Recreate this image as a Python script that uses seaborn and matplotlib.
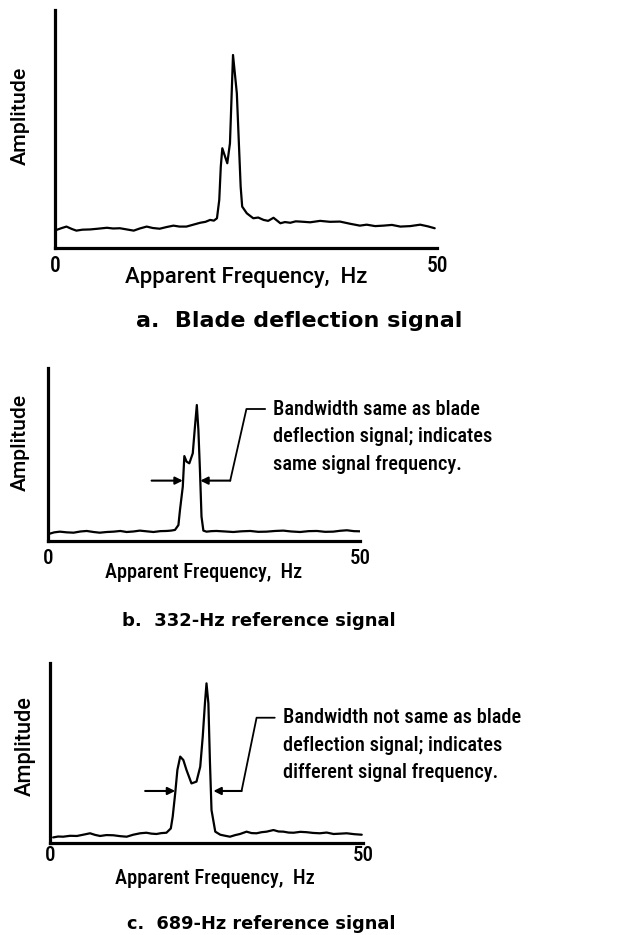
import matplotlib
matplotlib.use('Agg')
import matplotlib.pyplot as plt
import seaborn as sns
from matplotlib import font_manager
from matplotlib.font_manager import FontProperties

# Spectra: apparent frequency (Hz) and relative amplitude
blade_freq = [0.2, 0.9, 1.5, 2.2, 2.8, 3.6, 4.6, 5.6, 6.8, 7.6, 8.5, 9.4, 10.3, 11.1, 12.0,
              12.8, 13.7, 14.6, 15.5, 16.3, 17.2, 18.1, 19.0, 19.7, 20.3, 20.8, 21.2, 21.5,
              21.7, 21.9, 22.55, 22.9, 23.3, 23.8, 24.05, 24.3, 24.5, 25.1, 25.5, 25.95,
              26.6, 27.3, 27.9, 28.6, 29.5, 30.1, 30.8, 31.5, 32.1, 33.4, 34.7, 36.0, 37.3,
              38.6, 39.9, 40.8, 41.9, 43.0, 44.1, 45.2, 46.5, 47.8, 48.8, 49.7]
blade_amp = [0.076, 0.084, 0.090, 0.080, 0.073, 0.077, 0.078, 0.081, 0.085, 0.082, 0.083,
             0.078, 0.073, 0.082, 0.090, 0.084, 0.081, 0.088, 0.094, 0.090, 0.090, 0.098,
             0.106, 0.110, 0.118, 0.115, 0.125, 0.202, 0.342, 0.419, 0.356, 0.440, 0.811,
             0.650, 0.454, 0.258, 0.174, 0.146, 0.136, 0.125, 0.128, 0.118, 0.114, 0.127,
             0.104, 0.109, 0.106, 0.112, 0.111, 0.108, 0.114, 0.110, 0.111, 0.102, 0.094,
             0.098, 0.092, 0.094, 0.097, 0.090, 0.092, 0.098, 0.091, 0.083]

ref332_freq = [0.05, 1.0, 1.9, 3.0, 4.1, 5.2, 6.2, 7.3, 8.3, 9.4, 10.5, 11.6, 12.6, 13.7, 14.7,
               15.8, 16.9, 18.0, 19.0, 19.7, 20.35, 20.9, 21.15, 21.6, 21.85, 22.2, 22.65,
               23.2, 23.55, 23.85, 24.1, 24.35, 24.6, 24.9, 25.4, 26.2, 27.0, 28.4, 29.7,
               31.0, 32.4, 33.7, 35.0, 36.4, 37.7, 39.0, 40.4, 41.8, 43.1, 44.4, 45.7, 46.8,
               47.9, 49.0, 50.0]
ref332_amp = [0.040, 0.050, 0.054, 0.050, 0.048, 0.055, 0.058, 0.052, 0.048, 0.052, 0.054,
              0.058, 0.052, 0.055, 0.060, 0.056, 0.052, 0.057, 0.058, 0.060, 0.064, 0.092,
              0.179, 0.314, 0.491, 0.459, 0.449, 0.507, 0.661, 0.786, 0.642, 0.410, 0.141,
              0.060, 0.054, 0.057, 0.058, 0.055, 0.052, 0.056, 0.058, 0.053, 0.054, 0.058,
              0.060, 0.055, 0.052, 0.057, 0.058, 0.053, 0.054, 0.059, 0.062, 0.057, 0.056]

ref689_freq = [0.5, 1.3, 2.1, 3.2, 4.3, 5.3, 6.4, 7.2, 8.0, 9.0, 10.1, 11.2, 12.25, 13.3, 14.4,
               15.4, 16.2, 17.0, 17.8, 18.6, 19.3, 19.6, 20.0, 20.35, 20.8, 21.3, 21.8, 22.6,
               23.4, 24.0, 24.4, 24.75, 25.0, 25.3, 25.55, 25.8, 26.4, 27.2, 28.0, 28.75,
               29.6, 30.35, 31.4, 32.2, 33.0, 33.8, 34.6, 35.7, 36.5, 37.3, 38.1, 38.9, 40.0,
               41.0, 42.0, 43.1, 44.2, 45.3, 46.4, 47.4, 48.6, 49.8]
ref689_amp = [0.031, 0.036, 0.035, 0.040, 0.039, 0.046, 0.054, 0.045, 0.039, 0.044, 0.043,
              0.038, 0.035, 0.046, 0.054, 0.057, 0.052, 0.050, 0.055, 0.057, 0.081, 0.146,
              0.276, 0.406, 0.480, 0.461, 0.406, 0.331, 0.341, 0.424, 0.591, 0.776, 0.887,
              0.776, 0.450, 0.183, 0.063, 0.046, 0.040, 0.035, 0.044, 0.050, 0.063, 0.055,
              0.054, 0.060, 0.063, 0.072, 0.064, 0.063, 0.058, 0.057, 0.062, 0.060, 0.056,
              0.054, 0.058, 0.050, 0.052, 0.054, 0.049, 0.046]

# bandwidth markers: arrow height, (left tail, left tip), (right tail, right tip), leader bend and end
ref332_band = dict(y=0.349, left=(16.6, 21.6), right=(29.2, 24.4), bend=(31.8, 0.763), end=34.8)
ref689_band = dict(y=0.289, left=(15.2, 20.0), right=(30.6, 26.1), bend=(33.0, 0.696), end=35.9)

ref332_note = ['Bandwidth same as blade', 'deflection signal; indicates', 'same signal frequency.']
ref689_note = ['Bandwidth not same as blade', 'deflection signal; indicates',
               'different signal frequency.']

panel_titles = ['a.  Blade deflection signal', 'b.  332-Hz reference signal',
                'c.  689-Hz reference signal']
x_ticks = [0, 50]
x_tick_labels = ['0', '50']
x_label = 'Apparent Frequency,  Hz'
y_label = 'Amplitude'

W, H = 634, 935

sns.set_style('white')
plt.rcParams['font.family'] = ['Liberation Sans', 'DejaVu Sans']
plt.rcParams['text.color'] = 'black'
plt.rcParams['axes.labelcolor'] = 'black'
plt.rcParams['xtick.color'] = 'black'


def pick_font(names, fallback, stretch=None):
    # first installed face among names, medium weight if there is one
    fonts = font_manager.fontManager.ttflist
    for name in names:
        for wanted in ('500', 'medium', '400', 'normal', 'regular'):
            for f in fonts:
                if f.name == name and f.style == 'normal' and str(f.weight) == wanted \
                        and (stretch is None or f.stretch == stretch):
                    return FontProperties(fname=f.fname)
    return FontProperties(family=fallback)


NARROW = pick_font(['Liberation Sans Narrow', 'Roboto Condensed', 'Open Sans Condensed',
                    'Noto Sans Condensed'], 'Liberation Sans')
WIDE = pick_font(['Roboto'], 'Liberation Sans', stretch='normal')


def ax_coords(box, px, py):
    l, t, r, b = box
    return (px - l) / (r - l), (b - py) / (b - t)


def fit_length(texts, ref, target_px, renderer):
    # scale a group of texts so that the reference one is target_px long
    bb = ref.get_window_extent(renderer)
    k = target_px / max(bb.width, bb.height) if ref.get_rotation() else target_px / bb.width
    for t in texts:
        t.set_fontsize(t.get_fontsize() * k)


def draw_panel(fig, box, freq, amp, title, pos):
    l, t, r, b = box
    ax = fig.add_axes([l / W, 1 - b / H, (r - l) / W, (b - t) / H])
    sns.lineplot(x=freq, y=amp, ax=ax, color='black', lw=1.6, sort=False, estimator=None)
    ax.set_xlim(0, 50)
    ax.set_ylim(0, 1)
    sns.despine(ax=ax)
    for s in ['left', 'bottom']:
        ax.spines[s].set_linewidth(2.3)
        ax.spines[s].set_color('black')
    ax.set_yticks([])
    ax.set_xticks(x_ticks)
    ax.set_xticklabels(x_tick_labels, fontproperties=NARROW)
    for lab in ax.get_xticklabels():
        lab.set_fontsize(pos['tick_fs'])
    ax.tick_params(axis='x', length=0, pad=pos['tick_pad'])
    xl = ax.set_xlabel(x_label, fontproperties=NARROW if pos['narrow'] else WIDE, va='center')
    xl.set_fontsize(15.5)
    ax.xaxis.set_label_coords(*ax_coords(box, *pos['xlabel']))
    yl = ax.set_ylabel(y_label, fontproperties=WIDE, va='center')
    yl.set_fontsize(15.5)
    ax.yaxis.set_label_coords(*ax_coords(box, *pos['ylabel']))
    tx, ty = ax_coords(box, *pos['title'])
    ax.text(tx, ty, title, transform=ax.transAxes, ha='center', va='center',
            family='DejaVu Sans', fontweight='bold', fontsize=pos['title_fs'], clip_on=False)
    return ax, xl, yl


def draw_band(ax, band, note, step):
    y = band['y']
    arrow = dict(arrowstyle='-|>', color='black', lw=1.5, mutation_scale=11, shrinkA=0, shrinkB=0)
    ax.annotate('', xy=(band['left'][1], y), xytext=(band['left'][0], y), arrowprops=arrow)
    ax.annotate('', xy=(band['right'][1], y), xytext=(band['right'][0], y), arrowprops=arrow)
    bx, by = band['bend']
    ax.plot([band['right'][0], bx, band['end']], [y, by, by], color='black', lw=1.3, clip_on=False)
    texts = []
    for i, line in enumerate(note):
        t = ax.text(band['end'] + 1.3, by - i * step, line, fontproperties=NARROW,
                    ha='left', va='center', clip_on=False)
        t.set_fontsize(16)
        texts.append(t)
    return texts


fig = plt.figure(figsize=(W / 100, H / 100), dpi=100)

box_a = (55, 10, 437, 248)
box_b = (48, 368, 360, 541)
box_c = (50, 663, 363, 843)

ax_a, xl_a, yl_a = draw_panel(fig, box_a, blade_freq, blade_amp, panel_titles[0],
                              dict(tick_fs=15.5, tick_pad=5, xlabel=(246, 278), ylabel=(20, 116),
                                   title=(299, 321), title_fs=16, narrow=False))
ax_b, xl_b, yl_b = draw_panel(fig, box_b, ref332_freq, ref332_amp, panel_titles[1],
                              dict(tick_fs=15, tick_pad=6, xlabel=(204, 573), ylabel=(20, 442),
                                   title=(259, 621), title_fs=13, narrow=True))
ax_c, xl_c, yl_c = draw_panel(fig, box_c, ref689_freq, ref689_amp, panel_titles[2],
                              dict(tick_fs=15, tick_pad=2, xlabel=(215, 879), ylabel=(25, 746),
                                   title=(261, 924), title_fs=12.8, narrow=True))

note_b = draw_band(ax_b, ref332_band, ref332_note, 27.5 / 173)
note_c = draw_band(ax_c, ref689_band, ref689_note, 27.5 / 180)

renderer = fig.canvas.get_renderer()
fit_length([xl_a], xl_a, 243, renderer)
fit_length([xl_b], xl_b, 198, renderer)
fit_length([xl_c], xl_c, 200, renderer)
fit_length([yl_a], yl_a, 98, renderer)
fit_length([yl_b], yl_b, 97, renderer)
fit_length([yl_c], yl_c, 100, renderer)
fit_length(note_b, note_b[1], 220, renderer)
fit_length(note_c, note_c[1], 220, renderer)

fig.savefig('out.png', dpi=100)
